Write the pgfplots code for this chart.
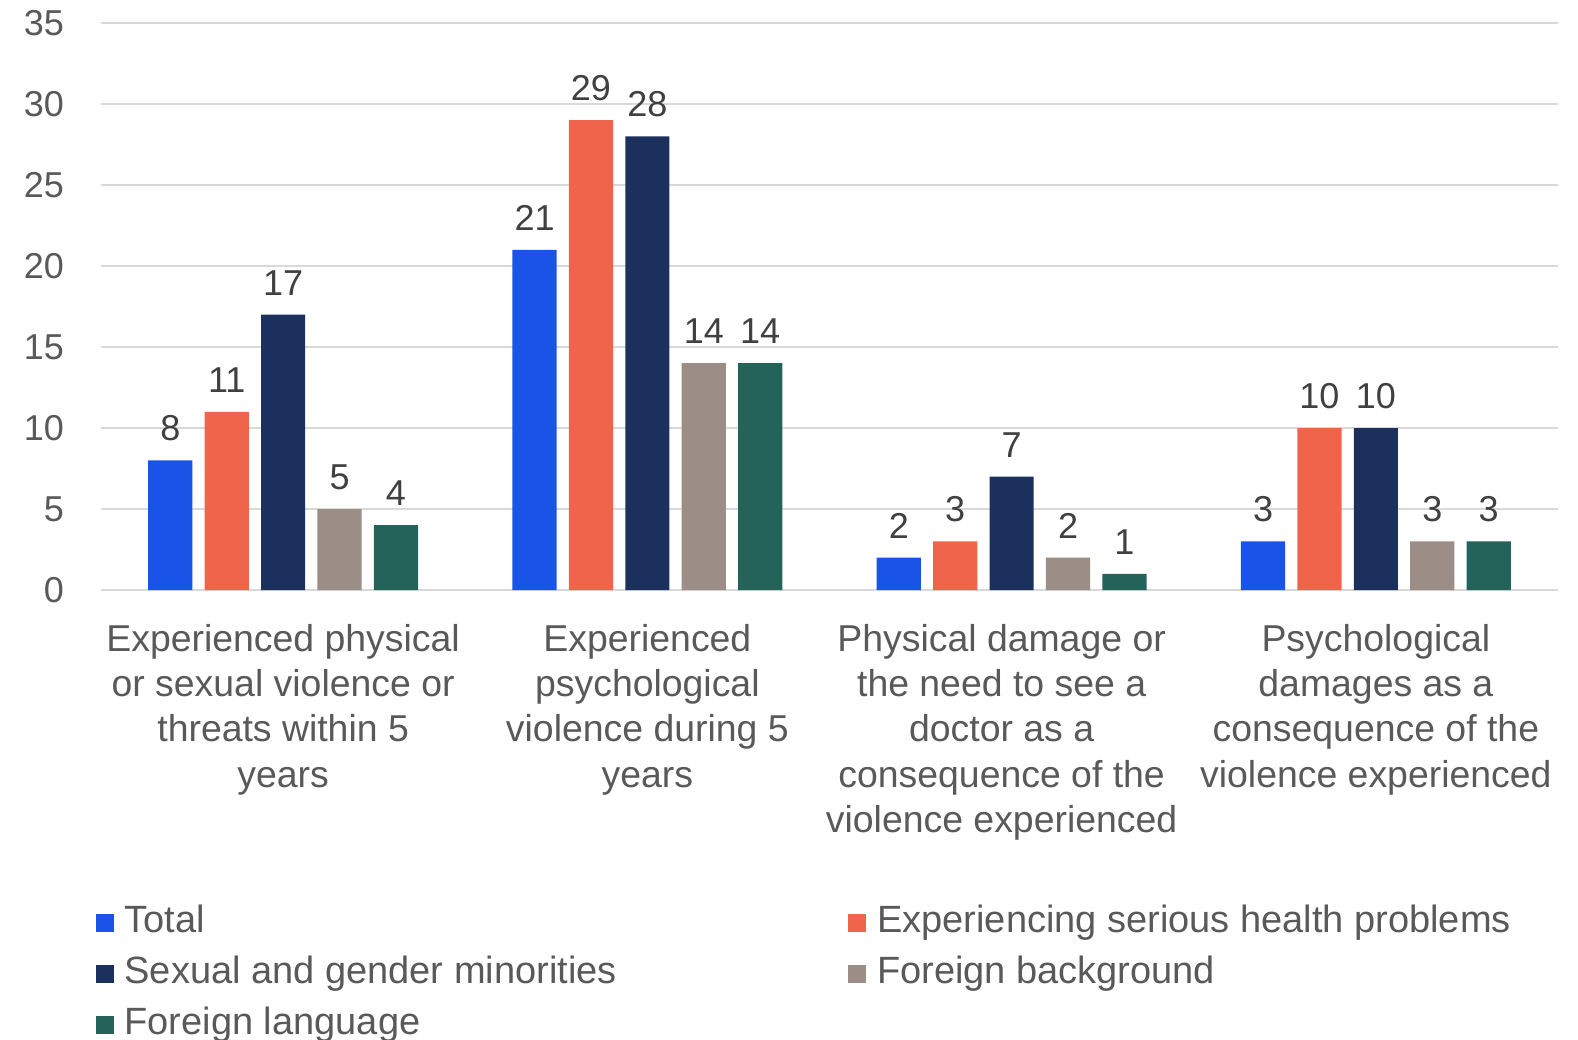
\documentclass[border=0pt]{standalone}
\usepackage{pgfplots}
\pgfplotsset{compat=1.18}
\usepackage{fontspec}
\setmainfont{Liberation Sans}
\definecolor{cTotal}{HTML}{1A53E8}
\definecolor{cHealth}{HTML}{F0644C}
\definecolor{cSGM}{HTML}{1C305E}
\definecolor{cFB}{HTML}{9C8E86}
\definecolor{cFL}{HTML}{24635A}
\definecolor{gridc}{HTML}{D9D9D9}
\definecolor{txt}{HTML}{595959}
\definecolor{vtxt}{HTML}{404040}
\begin{document}
\begin{tikzpicture}
\begin{axis}[
  scale only axis,
  width=728.5pt, height=283.5pt,
  xmin=-0.5, xmax=3.5, ymin=0, ymax=35,
  ybar=6.1pt, bar width=22.1pt,
  axis line style={draw=none},
  major tick length=0pt,
  ytick={0,5,...,35},
  ymajorgrids, grid style={gridc, line width=1pt},
  xtick={0,1,3},
  xticklabels={{Experienced physical\\or sexual violence or\\threats within 5\\years},
               {Experienced\\psychological\\violence during 5\\years},
               {Psychological\\damages as a\\consequence of the\\violence experienced}},
  extra x ticks={2},
  extra x tick labels={{Physical damage or\\the need to see a\\doctor as a\\consequence of the\\violence experienced}},
  extra x tick style={xticklabel style={xshift=-5pt}},
  xticklabel style={anchor=north, align=center, inner sep=0pt, yshift=-17pt, text=txt,
     font=\fontsize{18.7pt}{22.6pt}\selectfont},
  yticklabel style={anchor=east, inner sep=0pt, xshift=-18.3pt, text=txt,
     font=\fontsize{18pt}{20pt}\selectfont},
  /pgf/number format/assume math mode=true,
  nodes near coords,
  every node near coord/.append style={anchor=south, inner sep=0pt, yshift=9.5pt, text=vtxt,
     font=\fontsize{18pt}{20pt}\selectfont},
  legend columns=2,
  legend image code/.code={\fill[#1] (0pt,-4.5pt) rectangle (9pt,4.5pt);},
  legend style={draw=none, fill=none, inner sep=0pt, outer sep=0pt,
     at={(axis description cs:-0.0037,-0.5553)}, anchor=north west,
     column sep=5.5pt, row sep=7.5pt,
     font=\fontsize{19pt}{22pt}\selectfont, text=txt,
     nodes={inner sep=0pt, text height=14pt, text depth=4pt, anchor=west}},
  legend cell align=left,
]
\addplot[fill=cTotal, draw=none] coordinates {(0,8) (1,21) (2,2) (3,3)};
\addplot[fill=cHealth, draw=none] coordinates {(0,11) (1,29) (2,3) (3,10)};
\addplot[fill=cSGM, draw=none] coordinates {(0,17) (1,28) (2,7) (3,10)};
\addplot[fill=cFB, draw=none] coordinates {(0,5) (1,14) (2,2) (3,3)};
\addplot[fill=cFL, draw=none] coordinates {(0,4) (1,14) (2,1) (3,3)};
\legend{\makebox[356.3pt][l]{Total}, Experiencing serious health problems,
        \makebox[356.3pt][l]{Sexual and gender minorities}, Foreign background,
        \makebox[356.3pt][l]{Foreign language}}
\end{axis}
\pgfresetboundingbox
\path[use as bounding box] (-50.5pt,-224.5pt) rectangle (738.5pt,295pt);
\end{tikzpicture}
\end{document}
